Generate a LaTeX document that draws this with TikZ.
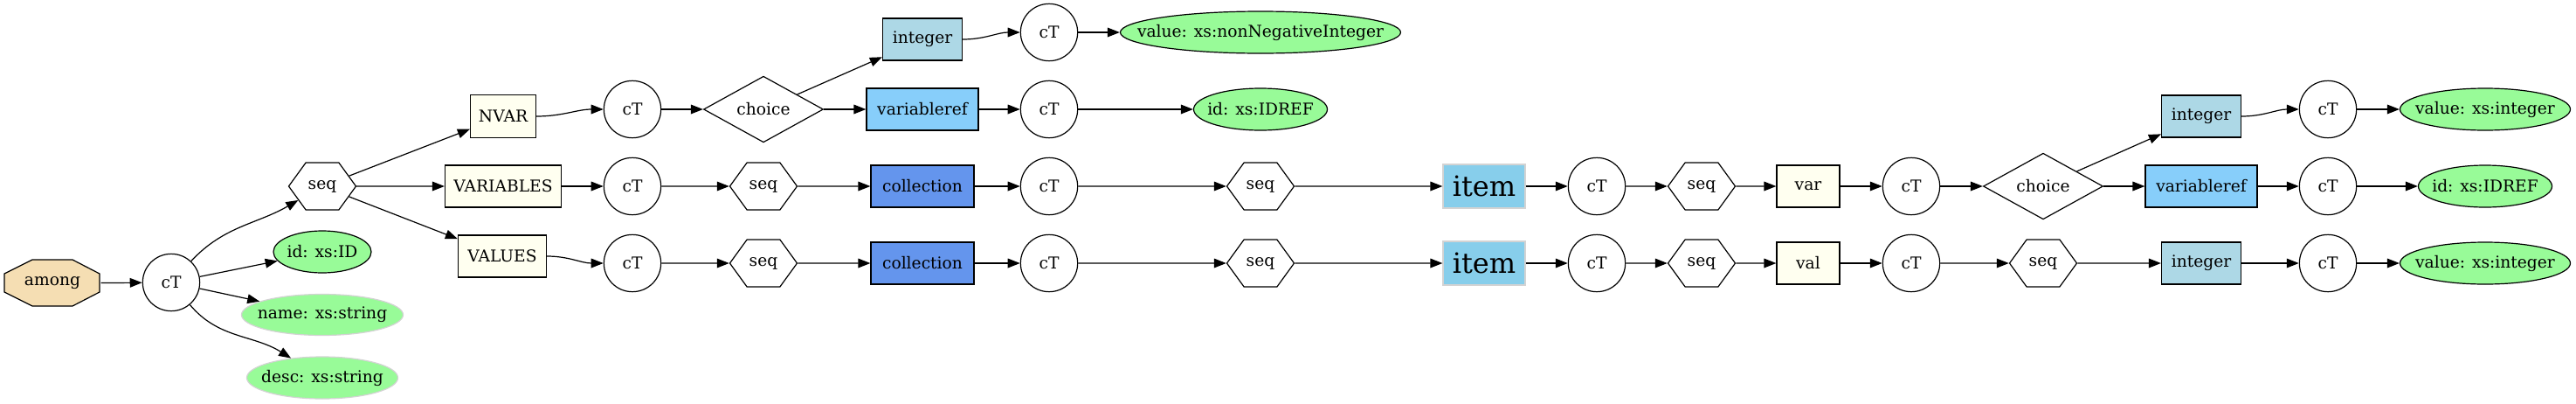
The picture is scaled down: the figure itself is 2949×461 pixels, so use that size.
\documentclass[tikz,border=0pt]{standalone}
\usepackage{fontspec}
\setmainfont{DejaVu Serif}
\usetikzlibrary{arrows.meta,shapes.geometric,shapes.symbols}

\definecolor{wheat}{HTML}{F5DEB3}
\definecolor{ivory}{HTML}{FFFFF0}
\definecolor{lightblue}{HTML}{ADD8E6}
\definecolor{lightskyblue}{HTML}{87CEFA}
\definecolor{cornflower}{HTML}{6495ED}
\definecolor{skyblue}{HTML}{87CEEB}
\definecolor{palegreen}{HTML}{98FB98}
\definecolor{softgray}{HTML}{D3D3D3}

\tikzset{
  base/.style={draw, line width=0.9pt, inner sep=0pt, font=\fontsize{14}{17}\selectfont},
  ct/.style={base, circle, fill=white, minimum size=49pt},
  seqhex/.style={base, signal, signal to=east and west, signal pointer angle=108, fill=white, minimum width=57.75pt, minimum height=40.5pt},
  choicebox/.style={base, diamond, fill=white, minimum width=102.75pt, minimum height=49.5pt},
  elem/.style={base, rectangle, minimum height=36pt},
  attr/.style={base, ellipse, fill=palegreen, minimum height=36pt,
    execute at begin node={\hbox to 0pt\bgroup\hss}, execute at end node={\hss\egroup}},
  optattr/.style={attr, draw=softgray},
  link/.style={line width=0.9pt, -{Triangle[length=10.5pt,width=8pt]}},
}

\begin{document}
\begin{tikzpicture}[x=0.75pt, y=0.75pt]
		%%%%% START %%%%%
		\useasboundingbox (0,0) rectangle (2949,-461);
		
		\draw[line width=0.9pt, fill=wheat] (5,-313) -- (5,-334) -- (37,-350) -- (83,-350) -- (114,-334) -- (114,-313) -- (83,-297) -- (37,-297) -- cycle;
		\node[base, draw=none, rectangle, minimum width=82.5pt, minimum height=39pt] (among) at (60,-324) {among};
		\node[ct] (ct0) at (196,-323) {cT};
		\node[seqhex] (seq0) at (369,-213) {seq};
		\node[attr, minimum width=84pt] (id0) at (369,-288) {id: xs:ID};
		\node[optattr, minimum width=138.75pt, minimum height=35.25pt] (name0) at (369,-360) {name: xs:string};
		\node[optattr, minimum width=129.75pt] (desc0) at (369,-432) {desc: xs:string};
		
		\node[elem, fill=ivory, minimum width=56.25pt, minimum height=36.75pt] (nvar) at (576,-133) {NVAR};
		\node[elem, fill=ivory, minimum width=99.75pt] (variables) at (576,-213) {VARIABLES};
		\node[elem, fill=ivory, minimum width=75.75pt] (values) at (575,-293) {VALUES};
		
		% NVAR
		\node[ct] (ct1) at (724,-125) {cT};
		\node[choicebox] (choice1) at (874,-125) {choice};
		\node[elem, fill=lightblue, minimum width=68.25pt] (int1) at (1056,-45) {integer};
		\node[elem, fill=lightskyblue, minimum width=96pt] (vref1) at (1056,-125) {variableref};
		\node[ct] (ct1a) at (1201,-37) {cT};
		\node[ct] (ct1b) at (1201,-125) {cT};
		\node[attr, minimum width=240.75pt] (nonneg1) at (1443,-37) {value: xs:nonNegativeInteger};
		\node[attr, minimum width=114.75pt] (idref1) at (1443,-125) {id: xs:IDREF};
		
		% VARIABLES
		\node[ct] (ct2) at (724,-213) {cT};
		\node[seqhex] (seq2) at (874,-213) {seq};
		\node[elem, fill=cornflower, minimum width=88.5pt] (coll2) at (1056,-213) {collection};
		\node[ct] (ct2a) at (1201,-213) {cT};
		\node[seqhex] (seq2a) at (1443,-213) {seq};
		\node[elem, draw=softgray, fill=skyblue, minimum width=70.5pt, minimum height=37.5pt, font=\fontsize{24}{28}\selectfont] (item2) at (1699,-213) {item};
		\node[ct] (ct2b) at (1828,-213) {cT};
		\node[seqhex] (seq2b) at (1948,-213) {seq};
		\node[elem, fill=ivory, minimum width=54pt] (var2) at (2070,-213) {var};
		\node[ct] (ct2c) at (2188,-213) {cT};
		\node[choicebox] (choice2) at (2339,-213) {choice};
		\node[elem, fill=lightblue, minimum width=68.25pt] (int2) at (2520,-133) {integer};
		\node[elem, fill=lightskyblue, minimum width=96pt] (vref2) at (2520,-213) {variableref};
		\node[ct] (ct2d) at (2665,-125) {cT};
		\node[ct] (ct2e) at (2665,-213) {cT};
		\node[attr, minimum width=146.25pt] (valint2) at (2845,-125) {value: xs:integer};
		\node[attr, minimum width=114.75pt] (idref2) at (2845,-213) {id: xs:IDREF};
		
		% VALUES
		\node[ct] (ct3) at (724,-301) {cT};
		\node[seqhex] (seq3) at (874,-301) {seq};
		\node[elem, fill=cornflower, minimum width=88.5pt] (coll3) at (1056,-301) {collection};
		\node[ct] (ct3a) at (1201,-301) {cT};
		\node[seqhex] (seq3a) at (1443,-301) {seq};
		\node[elem, draw=softgray, fill=skyblue, minimum width=70.5pt, minimum height=37.5pt, font=\fontsize{24}{28}\selectfont] (item3) at (1699,-301) {item};
		\node[ct] (ct3b) at (1828,-301) {cT};
		\node[seqhex] (seq3b) at (1948,-301) {seq};
		\node[elem, fill=ivory, minimum width=54pt] (val3) at (2070,-301) {val};
		\node[ct] (ct3c) at (2188,-301) {cT};
		\node[seqhex] (seq3c) at (2339,-301) {seq};
		\node[elem, fill=lightblue, minimum width=68.25pt] (int3) at (2520,-301) {integer};
		\node[ct] (ct3d) at (2665,-301) {cT};
		\node[attr, minimum width=146.25pt] (valint3) at (2845,-301) {value: xs:integer};
		
		% edges
		\draw[link] (among) -- (ct0);
		\draw[link] (ct0) to[out=47, in=210] (seq0);
		\draw[link] (ct0) -- (id0);
		\draw[link] (ct0) -- (name0);
		\draw[link] (ct0) to[out=-50, in=148] (desc0);
		\draw[link] (seq0) -- (nvar);
		\draw[link] (seq0) -- (variables);
		\draw[link] (seq0) -- (values);
		
		\draw[link] (nvar) to[out=0, in=180] (ct1);
		\draw[link] (ct1) -- (choice1);
		\draw[link] (choice1) -- (int1);
		\draw[link] (choice1) -- (vref1);
		\draw[link] (int1) to[out=0, in=180] (ct1a);
		\draw[link] (vref1) -- (ct1b);
		\draw[link] (ct1a) -- (nonneg1);
		\draw[link] (ct1b) -- (idref1);
		
		\draw[link] (variables) -- (ct2);
		\draw[link] (ct2) -- (seq2);
		\draw[link] (seq2) -- (coll2);
		\draw[link] (coll2) -- (ct2a);
		\draw[link] (ct2a) -- (seq2a);
		\draw[link] (seq2a) -- (item2);
		\draw[link] (item2) -- (ct2b);
		\draw[link] (ct2b) -- (seq2b);
		\draw[link] (seq2b) -- (var2);
		\draw[link] (var2) -- (ct2c);
		\draw[link] (ct2c) -- (choice2);
		\draw[link] (choice2) -- (int2);
		\draw[link] (choice2) -- (vref2);
		\draw[link] (int2) to[out=0, in=180] (ct2d);
		\draw[link] (vref2) -- (ct2e);
		\draw[link] (ct2d) -- (valint2);
		\draw[link] (ct2e) -- (idref2);
		
		\draw[link] (values) to[out=0, in=180] (ct3);
		\draw[link] (ct3) -- (seq3);
		\draw[link] (seq3) -- (coll3);
		\draw[link] (coll3) -- (ct3a);
		\draw[link] (ct3a) -- (seq3a);
		\draw[link] (seq3a) -- (item3);
		\draw[link] (item3) -- (ct3b);
		\draw[link] (ct3b) -- (seq3b);
		\draw[link] (seq3b) -- (val3);
		\draw[link] (val3) -- (ct3c);
		\draw[link] (ct3c) -- (seq3c);
		\draw[link] (seq3c) -- (int3);
		\draw[link] (int3) -- (ct3d);
		\draw[link] (ct3d) -- (valint3);
		
		%%%%% END %%%%%
	\end{tikzpicture}
\end{document}
